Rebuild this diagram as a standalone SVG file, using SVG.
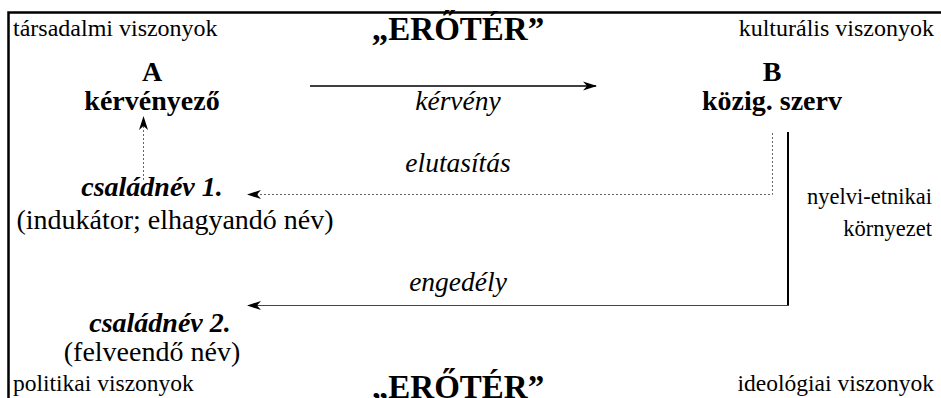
<svg xmlns="http://www.w3.org/2000/svg" width="941" height="398" viewBox="0 0 941 398">
<style>
text{font-family:"Liberation Serif","DejaVu Serif",serif;fill:#000}
.lab{font-size:24px}
.lab2{font-size:23.5px}
.env{font-size:22.5px}
.big{font-size:28px}
.it{font-size:27.5px;font-style:italic}
.b{font-size:28px;font-weight:bold}
.bi{font-size:28px;font-weight:bold;font-style:italic}
.t{font-size:33px;font-weight:bold}
.solid{stroke:#000;stroke-width:1.3;fill:none}
.thin{stroke:#444;stroke-width:1;fill:none}
.dot{stroke:#666;stroke-width:1;stroke-dasharray:2,2;fill:none}
</style>
<defs>
<marker id="ah" markerWidth="16" markerHeight="12" refX="14" refY="6" orient="auto" markerUnits="userSpaceOnUse">
<path d="M15,6 L1,1.5 L5,6 L1,10.5 Z" fill="#000"/>
</marker>
</defs>
<g id="frame">
<path d="M8.5,398 V12.5 H941" stroke="#000" stroke-width="2.5" fill="none"/>
</g>
<g id="labels">
<text class="lab" x="13" y="36">társadalmi viszonyok</text>
<text class="lab" x="934" y="36" text-anchor="end">kulturális viszonyok</text>
<text class="t" x="458" y="40" text-anchor="middle">„ERŐTÉR”</text>
<text class="env" x="932" y="204" text-anchor="end">nyelvi-etnikai</text>
<text class="env" x="932" y="236" text-anchor="end">környezet</text>
<text class="lab2" x="13" y="391">politikai viszonyok</text>
<text class="lab2" x="934" y="391" text-anchor="end">ideológiai viszonyok</text>
<text class="t" x="458" y="398" text-anchor="middle">„ERŐTÉR”</text>
</g>
<g id="nodeA">
<text class="b" x="152" y="81" text-anchor="middle">A</text>
<text class="b" x="152" y="110" text-anchor="middle">kérvényező</text>
</g>
<g id="nodeB">
<text class="b" x="772" y="81" text-anchor="middle">B</text>
<text class="b" x="772" y="110" text-anchor="middle">közig. szerv</text>
</g>
<g id="name1">
<text class="bi" x="152" y="196" text-anchor="middle">családnév 1.</text>
<text class="big" x="175" y="229" text-anchor="middle">(indukátor; elhagyandó név)</text>
</g>
<g id="name2">
<text class="bi" x="160" y="332" text-anchor="middle">családnév 2.</text>
<text class="big" x="152" y="361" text-anchor="middle">(felveendő név)</text>
</g>
<g id="connectors">
<path class="solid" d="M310,86 H596" marker-end="url(#ah)"/>
<text class="it" x="458" y="110" text-anchor="middle">kérvény</text>
<path class="dot" d="M143.5,180 V117" marker-end="url(#ah)"/>
<path class="dot" d="M772.5,133 V194.5 H248" marker-end="url(#ah)"/>
<text class="it" x="458" y="172" text-anchor="middle">elutasítás</text>
<path d="M788,132 V306" stroke="#000" stroke-width="2" fill="none"/>
<path class="thin" d="M789,305.5 H248" marker-end="url(#ah)"/>
<text class="it" x="458" y="291" text-anchor="middle">engedély</text>
</g>
</svg>
